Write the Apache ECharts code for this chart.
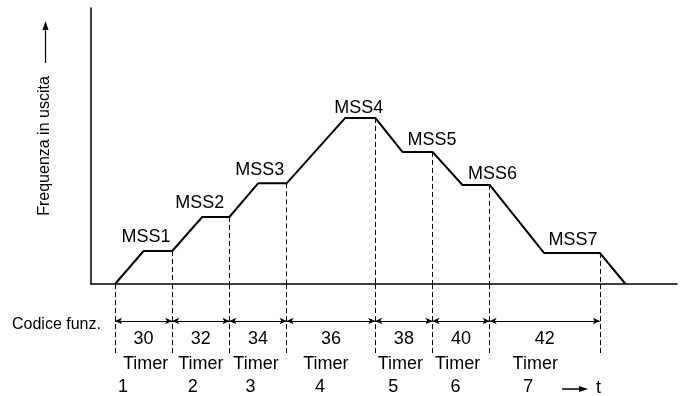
<!DOCTYPE html>
<html><head><meta charset="utf-8">
<script src="https://cdn.jsdelivr.net/npm/echarts@6/dist/echarts.min.js"></script>
<style>html,body{margin:0;padding:0;background:#fff}#c{width:681px;height:396px}</style>
</head><body><div id="c"></div>
<script>
// ---------- data ----------
const times      = [0, 1, 2, 3.05, 4, 5, 6, 8.05, 9.1, 10.05, 11.1, 12.15, 13.1, 15, 16.95, 17.85];
const freq       = [0, 1, 1, 2.03, 2.03, 3.05, 3.05, 5.03, 5.03, 4, 4, 3, 3, 0.94, 0.94, 0];
const stepNames  = ['MSS1', 'MSS2', 'MSS3', 'MSS4', 'MSS5', 'MSS6', 'MSS7'];
const timerEdges = [0, 2, 4, 6, 9.1, 11.1, 13.1, 16.95];
const funcCodes  = ['30', '32', '34', '36', '38', '40', '42'];
const timerNames = ['Timer', 'Timer', 'Timer', 'Timer', 'Timer', 'Timer', 'Timer'];
const timerNums  = ['1', '2', '3', '4', '5', '6', '7'];

// ---------- layout / style ----------
const INK = '#000';
const FONT = '"Liberation Sans", Arial, sans-serif';
const X_MIN = -0.84, X_MAX = 19.65;
const Y_MAX = 8.36;
// lower band measured in pixels below the time axis
const ROW = { dashEnd: -71, codeLine: -37, code: -55.5, timer: -80, num: -103.5, bottom: -112 };
const stepLabelOffset = [[-12, -14], [-16, -14], [-12.5, -13], [-1.5, -10], [14.5, -12], [16.5, -11], [1, -13]];
const timerDx = [2, 0, -2, -5, -3.5, -3.5, -9.5];
const numDx   = [-20.5, -8, -7.5, -11, -10.5, -5.5, -16.5];

// ---------- derived ----------
const profile = times.map((t, i) => [t, freq[i]]);
const flats = [];
for (let i = 1; i < times.length - 1; i++) {
  if (freq[i] === freq[i + 1] && freq[i] > 0) flats.push([times[i], times[i + 1], freq[i]]);
}
function levelAt(t) {
  const i = times.indexOf(t);
  return i >= 0 ? freq[i] : 0;
}
const mids = timerEdges.slice(0, -1).map((e, i) => (e + timerEdges[i + 1]) / 2);

const upperDash = timerEdges.map(t => [{ coord: [t, levelAt(t)] }, { coord: [t, 0] }]);
const lowerDash = timerEdges.map(t => [{ coord: [t, 0] }, { coord: [t, ROW.dashEnd] }]);
const codeSegs = mids.map((m, i) => [{ coord: [timerEdges[i], ROW.codeLine] }, { coord: [timerEdges[i + 1], ROW.codeLine] }]);

const txt = (size) => ({ color: INK, fontFamily: FONT, fontSize: size, textBorderWidth: 0, opacity: 1 });
const labelSeries = (name, xi, data, extra) => Object.assign({
  type: 'scatter', name, xAxisIndex: xi, yAxisIndex: xi, data,
  symbolSize: 0, itemStyle: { color: INK, opacity: 1 },
  label: { show: true, position: 'inside', formatter: p => p.name, ...txt(18) },
  emphasis: { disabled: true }
}, extra || {});

const chart = echarts.init(document.getElementById('c'), null, { renderer: 'canvas' });
chart.setOption({
  animation: false,
  backgroundColor: '#fff',
  grid: [
    { left: 91, right: 4, top: 8, height: 276 },
    { left: 91, right: 4, top: 284, height: 112 }
  ],
  xAxis: [
    { type: 'value', gridIndex: 0, min: X_MIN, max: X_MAX,
      axisLine: { show: true, onZero: false, lineStyle: { color: INK, width: 1.5 } },
      axisTick: { show: false }, axisLabel: { show: false }, splitLine: { show: false } },
    { type: 'value', gridIndex: 1, min: X_MIN, max: X_MAX, show: false }
  ],
  yAxis: [
    { type: 'value', gridIndex: 0, min: 0, max: Y_MAX,
      name: 'Frequenza in uscita', nameLocation: 'middle', nameGap: 38,
      nameTextStyle: txt(16),
      axisLine: { show: true, onZero: false, lineStyle: { color: INK, width: 1.5 } },
      axisTick: { show: false }, axisLabel: { show: false }, splitLine: { show: false } },
    { type: 'value', gridIndex: 1, min: ROW.bottom, max: 0, show: false }
  ],
  series: [
    { type: 'line', name: 'profilo', xAxisIndex: 0, yAxisIndex: 0, data: profile,
      symbol: 'none', lineStyle: { color: INK, width: 2 }, z: 5,
      markLine: { silent: true, symbol: 'none', label: { show: false },
        lineStyle: { color: INK, width: 1, type: [5, 3] }, data: upperDash } },
    labelSeries('MSS', 0, flats.map((f, i) => ({ value: [(f[0] + f[1]) / 2, f[2]], name: stepNames[i],
        label: { offset: stepLabelOffset[i] } }))),
    labelSeries('codici', 1, mids.map((m, i) => ({ value: [m, ROW.code], name: funcCodes[i] })), {
      markLine: { silent: true, symbol: 'none', label: { show: false },
        lineStyle: { color: INK, width: 1, type: [5, 3] }, data: lowerDash } }),
    labelSeries('timer', 1, mids.map((m, i) => ({ value: [m, ROW.timer], name: timerNames[i], label: { offset: [timerDx[i], 0] } })), {
      markLine: { silent: true, symbol: ['arrow', 'arrow'], symbolSize: [5, 7], label: { show: false },
        lineStyle: { color: INK, width: 1.2, type: 'solid' }, data: codeSegs } }),
    labelSeries('numeri', 1, mids.map((m, i) => ({ value: [m, ROW.num], name: timerNums[i], label: { offset: [numDx[i], 0] } })))
  ],
  graphic: [
    { type: 'text', left: 12, top: 317, style: { text: 'Codice funz.', fill: INK, font: '16px ' + FONT } },
    { type: 'line', shape: { x1: 45.5, y1: 63, x2: 45.5, y2: 28 }, style: { stroke: INK, lineWidth: 1.2 } },
    { type: 'polygon', shape: { points: [[45.5, 21], [42.5, 30], [48.5, 30]] }, style: { fill: INK } },
    { type: 'line', shape: { x1: 562, y1: 389, x2: 580, y2: 389 }, style: { stroke: INK, lineWidth: 1.5 } },
    { type: 'polygon', shape: { points: [[588, 389], [579, 386], [579, 392]] }, style: { fill: INK } },
    { type: 'text', left: 596, top: 379, style: { text: 't', fill: INK, font: '18px ' + FONT } }
  ]
});
</script></body></html>
